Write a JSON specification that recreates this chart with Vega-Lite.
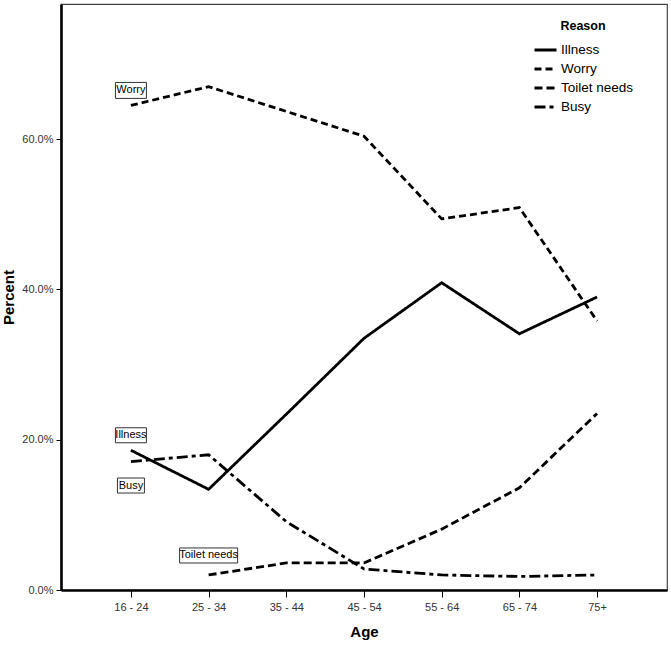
{
  "$schema": "https://vega.github.io/schema/vega-lite/v6.json",
  "width": 606,
  "height": 586,
  "autosize": {"type": "none"},
  "padding": {"left": 61, "top": 4, "right": 4, "bottom": 59},
  "background": "white",
  "config": {
    "font": "Liberation Sans",
    "view": {"stroke": "#444", "strokeWidth": 1.2},
    "axis": {"grid": false, "domainColor": "black", "domainWidth": 2.6, "tickColor": "black", "tickWidth": 1, "labelFont": "Liberation Sans", "labelFontSize": 11, "labelColor": "#333", "titleFont": "Liberation Sans", "titleFontSize": 15, "titleFontWeight": "bold", "titleColor": "black"}
  },
  "data": {
    "values": [
      {"Age": "16 - 24", "Reason": "Illness", "Percent": 0.186},
      {"Age": "25 - 34", "Reason": "Illness", "Percent": 0.134},
      {"Age": "35 - 44", "Reason": "Illness", "Percent": 0.234},
      {"Age": "45 - 54", "Reason": "Illness", "Percent": 0.335},
      {"Age": "55 - 64", "Reason": "Illness", "Percent": 0.409},
      {"Age": "65 - 74", "Reason": "Illness", "Percent": 0.341},
      {"Age": "75+", "Reason": "Illness", "Percent": 0.39},
      {"Age": "16 - 24", "Reason": "Worry", "Percent": 0.645},
      {"Age": "25 - 34", "Reason": "Worry", "Percent": 0.67},
      {"Age": "35 - 44", "Reason": "Worry", "Percent": 0.637},
      {"Age": "45 - 54", "Reason": "Worry", "Percent": 0.604},
      {"Age": "55 - 64", "Reason": "Worry", "Percent": 0.494},
      {"Age": "65 - 74", "Reason": "Worry", "Percent": 0.509},
      {"Age": "75+", "Reason": "Worry", "Percent": 0.358},
      {"Age": "25 - 34", "Reason": "Toilet needs", "Percent": 0.02},
      {"Age": "35 - 44", "Reason": "Toilet needs", "Percent": 0.036},
      {"Age": "45 - 54", "Reason": "Toilet needs", "Percent": 0.036},
      {"Age": "55 - 64", "Reason": "Toilet needs", "Percent": 0.081},
      {"Age": "65 - 74", "Reason": "Toilet needs", "Percent": 0.136},
      {"Age": "75+", "Reason": "Toilet needs", "Percent": 0.235},
      {"Age": "16 - 24", "Reason": "Busy", "Percent": 0.171},
      {"Age": "25 - 34", "Reason": "Busy", "Percent": 0.18},
      {"Age": "35 - 44", "Reason": "Busy", "Percent": 0.091},
      {"Age": "45 - 54", "Reason": "Busy", "Percent": 0.028},
      {"Age": "55 - 64", "Reason": "Busy", "Percent": 0.02},
      {"Age": "65 - 74", "Reason": "Busy", "Percent": 0.018},
      {"Age": "75+", "Reason": "Busy", "Percent": 0.02}
    ]
  },
  "encoding": {
    "x": {
      "field": "Age", "type": "ordinal", "title": "Age",
      "scale": {"type": "point", "padding": 0.9, "domain": ["16 - 24", "25 - 34", "35 - 44", "45 - 54", "55 - 64", "65 - 74", "75+"]},
      "axis": {"labelAngle": 0, "tickSize": 7, "labelPadding": 4, "titlePadding": 12}
    },
    "y": {
      "field": "Percent", "type": "quantitative", "title": "Percent",
      "scale": {"domain": [0, 0.78], "nice": false},
      "axis": {"values": [0, 0.2, 0.4, 0.6], "format": ".1%", "tickSize": 5, "labelPadding": 3, "titlePadding": 5}
    }
  },
  "layer": [
    {
      "mark": {"type": "line", "color": "black", "strokeWidth": 2.8},
      "encoding": {
        "strokeDash": {
          "field": "Reason", "type": "nominal", "title": "Reason",
          "scale": {"domain": ["Illness", "Worry", "Toilet needs", "Busy"], "range": [[1, 0], [7, 4], [8, 4], [11, 4, 4, 4]]},
          "legend": {
            "orient": "none", "legendX": 472, "legendY": 16,
            "symbolType": "stroke", "symbolSize": 484, "symbolStrokeWidth": 2.8, "symbolStrokeColor": "black",
            "labelFont": "Liberation Sans", "labelFontSize": 13.5, "labelColor": "black", "labelOffset": 3,
            "titleFont": "Liberation Sans", "titleFontSize": 12.5, "titleFontWeight": "bold", "titleColor": "black",
            "titleAnchor": "middle", "titlePadding": 5, "rowPadding": -3, "padding": 0
          }
        }
      }
    },
    {
      "transform": [{"filter": "datum.Reason == 'Worry' && datum.Age == '16 - 24'"}],
      "mark": {"type": "point", "shape": "M-1,-0.516H1V0.516H-1Z", "size": 961, "filled": false, "stroke": "#333", "strokeWidth": 1, "opacity": 1, "yOffset": -15}
    },
    {
      "transform": [{"filter": "datum.Reason == 'Worry' && datum.Age == '16 - 24'"}],
      "mark": {"type": "text", "text": "Worry", "fontSize": 11, "font": "Liberation Sans", "color": "black", "baseline": "middle", "align": "center", "yOffset": -15}
    },
    {
      "transform": [{"filter": "datum.Reason == 'Illness' && datum.Age == '16 - 24'"}],
      "mark": {"type": "point", "shape": "M-1,-0.484H1V0.484H-1Z", "size": 961, "filled": false, "stroke": "#333", "strokeWidth": 1, "opacity": 1, "yOffset": -15}
    },
    {
      "transform": [{"filter": "datum.Reason == 'Illness' && datum.Age == '16 - 24'"}],
      "mark": {"type": "text", "text": "Illness", "fontSize": 11, "font": "Liberation Sans", "color": "black", "baseline": "middle", "align": "center", "yOffset": -15}
    },
    {
      "transform": [{"filter": "datum.Reason == 'Busy' && datum.Age == '16 - 24'"}],
      "mark": {"type": "point", "shape": "M-1,-0.556H1V0.556H-1Z", "size": 729, "filled": false, "stroke": "#333", "strokeWidth": 1, "opacity": 1, "yOffset": 24}
    },
    {
      "transform": [{"filter": "datum.Reason == 'Busy' && datum.Age == '16 - 24'"}],
      "mark": {"type": "text", "text": "Busy", "fontSize": 11, "font": "Liberation Sans", "color": "black", "baseline": "middle", "align": "center", "yOffset": 24}
    },
    {
      "transform": [{"filter": "datum.Reason == 'Toilet needs' && datum.Age == '25 - 34'"}],
      "mark": {"type": "point", "shape": "M-1,-0.259H1V0.259H-1Z", "size": 3364, "filled": false, "stroke": "#333", "strokeWidth": 1, "opacity": 1, "yOffset": -19.5}
    },
    {
      "transform": [{"filter": "datum.Reason == 'Toilet needs' && datum.Age == '25 - 34'"}],
      "mark": {"type": "text", "text": "Toilet needs", "fontSize": 11, "font": "Liberation Sans", "color": "black", "baseline": "middle", "align": "center", "yOffset": -19.5}
    }
  ]
}
